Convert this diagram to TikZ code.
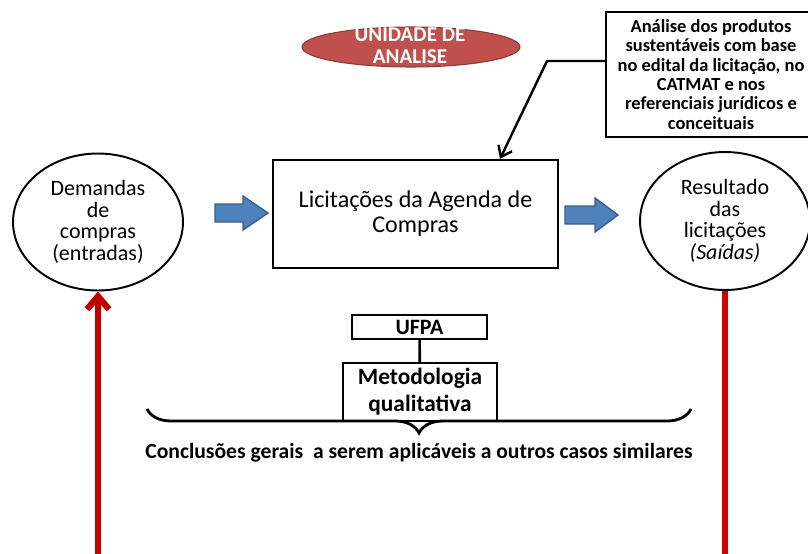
\documentclass[tikz,border=0pt]{standalone}
\usepackage{fontspec}
\setmainfont{Carlito}
\usepackage{tikz}
\usetikzlibrary{arrows.meta,decorations.pathreplacing,shapes.geometric}
\definecolor{unitred}{HTML}{C0504D}
\definecolor{unitredline}{HTML}{8C3836}
\definecolor{flowblue}{HTML}{4F81BD}
\definecolor{flowblueline}{HTML}{385D8A}
\definecolor{inred}{HTML}{C00000}
\definecolor{outred}{HTML}{D00000}

\begin{document}
\begin{tikzpicture}[x=0.02cm,y=-0.02cm,
	box/.style={draw,line width=1.3pt,align=center,inner sep=0pt},
	state/.style={draw,ellipse,line width=1.1pt,align=center,inner sep=0pt,font=\fontsize{12.5}{12.2}\selectfont},
	flowarrow/.style={draw=flowblueline,fill=flowblue,line width=0.8pt},
	redline/.style={line width=3.6pt}]
	\useasboundingbox (0,0) rectangle (808,554);

	%UNIT
	\node[ellipse,draw=unitredline,fill=unitred,line width=0.6pt,minimum width=4.36cm,minimum height=0.8cm,inner sep=0pt] (unit) at (411,47) {};
	\node[text=white,align=center,font=\bfseries\fontsize{12}{12.4}\selectfont] (unitlabel) at (410,46) {UNIDADE DE\\ANALISE};

	%BOXES
	\node[box,minimum width=4.2cm,minimum height=2.5cm,font=\bfseries\fontsize{10.5}{11}\selectfont] (analysis) at (711,74.5)
		{An\'alise dos produtos\\sustent\'aveis com base\\no edital da licita\c{c}\~ao, no\\CATMAT e nos\\referenciais jur\'idicos e\\conceituais};
	\node[box,minimum width=5.7cm,minimum height=2.16cm,font=\fontsize{13.7}{14.3}\selectfont] (lic) at (415.5,214) {\raisebox{-2pt}{\shortstack{Licita\c{c}\~oes da Agenda de\\Compras}}};
	\node[box,minimum width=2.7cm,minimum height=0.48cm,font=\bfseries\fontsize{12.5}{14}\selectfont] (ufpa) at (419.5,327) {UFPA};
	\node[box,minimum width=3.08cm,minimum height=1.16cm,font=\bfseries\fontsize{13.3}{15.3}\selectfont] (method) at (420,392) {Metodologia\\qualitativa};

	%STATES
	\node[state,minimum width=3.4cm,minimum height=2.74cm] (demand) at (98,222) {Demandas\\de\\compras\\(entradas)};
	\node[state,minimum width=3.4cm,minimum height=2.76cm] (result) at (725,221) {Resultado\\das\\licita\c{c}\~oes\\\textit{(Sa\'idas)}};

	%ARCS
	\coordinate (bend) at (547,61);
	\coordinate (tip) at (500,160);
	\draw[line width=1.4pt,-{Straight Barb[length=2mm,width=3mm]}] (analysis.west |- bend) -- (bend) -- (lic.north -| tip);
	\draw[line width=1.5pt] (ufpa) -- (method);

	%BLOCK ARROWS
	\coordinate (inarrow) at (215,213);
	\coordinate (outarrow) at (565,215);
	\draw[flowarrow] (inarrow) ++(0,-9) -- ++(28,0) -- ++(0,-8) -- ++(25,17) -- ++(-25,17) -- ++(0,-8) -- ++(-28,0) -- cycle;
	\draw[flowarrow] (outarrow) ++(0,-9) -- ++(30,0) -- ++(0,-8) -- ++(23,17) -- ++(-23,17) -- ++(0,-8) -- ++(-30,0) -- cycle;

	%RED LINES
	\coordinate (inflow) at (98,560);
	\coordinate (outflow) at (725,560);
	\draw[redline,inred,-{Straight Barb[length=2.6mm,width=4.4mm]}] (inflow) -- (demand.south);
	\draw[redline,outred] (result.south) -- (outflow);

	%CONCLUSION
	\draw[line width=1.6pt,decorate,decoration={brace,mirror,amplitude=0.48cm}] (147,409) -- (691,409);
	\node[font=\bfseries\fontsize{12.3}{14}\selectfont] (conclusion) at (419,453) {Conclus\~oes gerais\ \ a serem aplic\'aveis a outros casos similares};
\end{tikzpicture}
\end{document}
